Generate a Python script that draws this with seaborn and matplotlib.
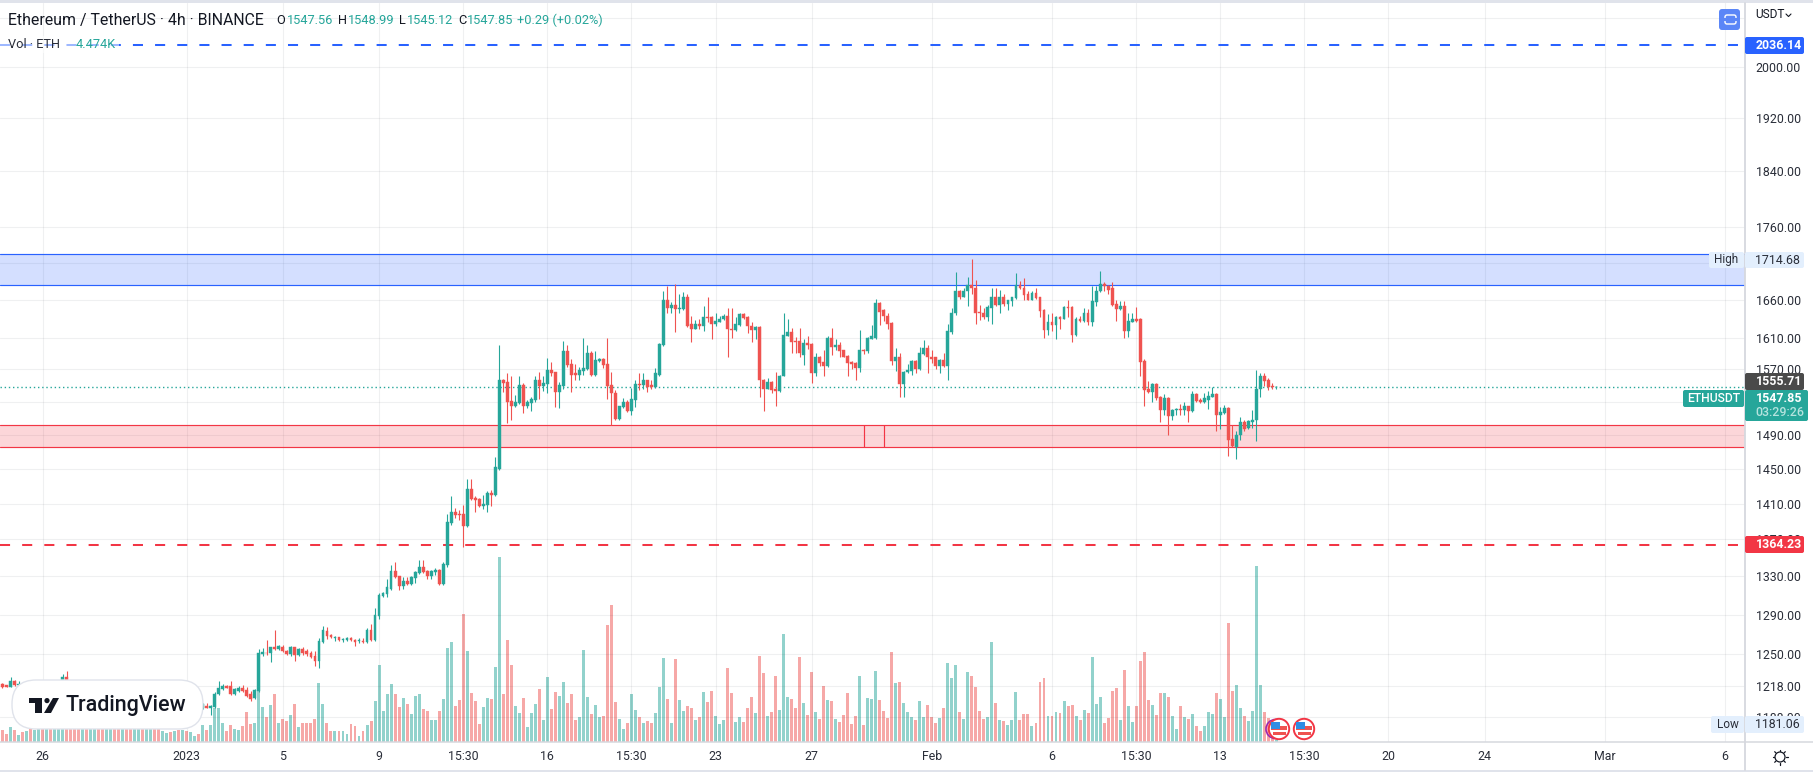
import matplotlib
matplotlib.use("Agg")
import matplotlib.pyplot as plt
from matplotlib.patches import Circle, FancyBboxPatch, Polygon, Rectangle
from matplotlib.ticker import NullLocator
import pandas as pd
import seaborn as sns

# open, high, low, close of each 4h candle
ohlc_dec_a = [
    (1220,1221,1216,1217.5),(1219,1219,1217,1217),(1217,1227,1217,1223),(1223,1224,1218,1219),
    (1219,1223,1217,1220),(1220,1221,1217,1218),(1218,1221,1216,1219),(1219,1220,1215,1216),
    (1216,1220,1214,1218),(1218,1224,1216,1222),(1222,1223,1214,1215),(1215,1218,1212,1216),
    (1216,1219,1213,1214),(1214,1219,1213,1218),(1218,1221,1216,1220),(1223,1230,1219,1227),
    (1227,1233.5,1222,1223),(1223,1224,1217,1219),(1219,1221,1210,1212),(1212,1214,1205,1207),
    (1207,1211,1204,1209),(1209,1212,1200,1202),(1202,1206,1198,1204),(1204,1208,1201,1206),
    (1206,1209,1200,1201),
]
ohlc_dec_b = [
    (1201,1204,1192,1194),(1194,1199,1191,1197),(1197,1201,1194,1199),(1199,1202,1193,1195),
    (1195,1198,1190,1193),(1193,1198,1191,1196),(1196,1199,1192,1194),(1194,1197,1190,1192),
    (1192,1196,1189,1195),(1195,1201,1194,1199),(1199,1203,1196,1197),(1197,1200,1193,1198),
    (1198,1202,1196,1200),(1200,1203,1196,1197),(1197,1199,1192,1194),(1194,1198,1191,1196),
    (1196,1200,1194,1199),(1199,1202,1196,1197),(1197,1200,1193,1198),(1198,1201,1195,1196),
    (1196,1199,1193,1198),(1198,1200,1194,1195),(1195,1197,1191,1196),(1196,1199,1193,1198),
    (1198,1201,1196,1197),
]
ohlc_jan_a = [
    (1197,1202,1196,1201),(1199,1202,1197,1197.5),(1197.5,1200,1190,1199),(1198,1212,1197,1211),
    (1210.7,1223,1210,1216),(1215,1220,1214,1218),(1218,1219,1216,1216.5),(1218,1223,1210,1211),
    (1211,1216,1210,1215),(1213,1218,1212,1216),(1216,1219,1212,1213),(1214,1217.5,1208,1209),
    (1211,1213,1204,1206),(1206.5,1215,1206,1214),(1213,1255,1212,1251),(1250,1255.5,1247.5,1252),
    (1251,1264.5,1249,1250.5),(1251,1257,1242,1256.5),(1256.5,1274,1254,1254.5),(1255,1259,1254,1257.5),
    (1257,1259,1252,1252.5),(1253,1254,1249,1249.5),(1250,1257.5,1248,1256.5),(1256.5,1257,1243,1249),
    (1249,1255.5,1248,1255),(1254.5,1256.5,1249,1251),(1252.5,1254.5,1248,1249.5),(1251,1253,1245.5,1247),
    (1248,1253,1237.5,1243),(1243,1266,1236,1263.5),(1262.5,1278,1261,1274),(1273.5,1277.5,1265,1268.5),
    (1269.5,1270.5,1266,1267),(1266.5,1268,1263.5,1267.5),(1267,1267.5,1263.5,1264),(1264,1266.5,1262.5,1265.5),
    (1264.5,1267,1263.5,1266),(1266.5,1267,1263,1264),(1264.5,1265.5,1258,1262.5),(1263,1266,1261,1264.5),
    (1263.5,1266,1261,1262),
]
ohlc_jan_b = [
    (1262,1276,1261,1274),(1274,1280,1263,1264),(1264,1297,1263,1290),(1289,1312,1285,1310),
    (1309,1314,1308,1312),(1311,1327,1308,1319),(1317,1342,1316,1336),(1336,1345,1328,1329),
    (1330,1331,1316,1320),(1320,1329,1317,1325),(1325,1329,1321,1322),(1322,1330,1321,1329),
    (1328,1336,1323,1335),(1334,1348,1333,1340),(1340,1348,1334,1335),(1336,1337,1327,1330),
    (1330,1337,1327,1336),(1335,1339,1332,1337),(1337,1338,1321,1322),(1322,1345,1321,1343),
    (1342,1398,1340,1389),(1388,1418,1386,1401),(1401,1405,1394,1397),(1398,1403,1392,1397),
    (1398,1408,1362,1385),(1385,1438,1384,1426),(1426,1438,1414,1415),(1416,1418,1401,1414),
    (1415,1416,1406,1407),(1407,1420,1404,1409),(1408,1424,1401,1422),(1422,1425,1407,1420),
    (1420,1464,1418,1451.5),(1450,1601,1448,1557),
]
ohlc_jan_c = [
    (1557,1558,1542,1553),(1554,1565,1504,1529),(1531,1561,1507,1524),(1524,1538,1523,1529),
    (1528,1561,1527,1550),(1550,1553,1516,1524),(1524,1532,1522,1529),(1528,1535,1518,1533),
    (1532,1561,1529,1557),(1557,1567,1533,1549),(1549,1562,1543,1553),(1552,1584,1541,1569),
    (1569,1579,1562,1565),(1567,1567,1523,1542),(1542,1554,1522,1550),(1549,1606,1546,1593),
    (1593,1601,1573,1576),(1577,1583,1542,1563),(1565,1577,1557,1563),(1563,1573,1557,1569),
    (1568,1610,1563,1572),(1570,1601,1569,1590),(1590,1593,1562,1563),(1563,1593,1562,1582),
    (1581,1584,1579,1583),(1583,1584,1571,1576),(1577,1610,1533,1549),(1550,1567,1502,1540),
    (1541,1544,1508,1509),(1509,1525,1508,1524),(1523,1534,1522,1529),(1529,1532,1517,1518),
    (1518,1547,1513,1533),(1532,1556,1523,1552),(1552,1565,1544,1550),(1550,1565,1545,1556),
    (1556,1557,1542,1548),(1550,1557,1546,1548),(1548,1571,1547,1565),(1563,1604,1562,1602),
    (1601,1671,1600,1659),
]
ohlc_jan_d = [
    (1659,1678,1643,1649),(1649,1657,1642,1653),(1653,1681,1617,1647),(1647,1668,1642,1649),
    (1647,1670,1646,1664),(1664,1668,1624,1626),(1628,1638,1605,1622),(1622,1633,1621,1628),
    (1628,1634,1622,1625),(1625,1652,1619,1637),(1637,1664,1631,1636),(1637,1638,1608,1628),
    (1628,1643,1626,1632),(1631,1639,1630,1634),(1634,1641,1633,1638),(1638,1649,1586,1621),
    (1622,1649,1610,1620),(1620,1637,1619,1628),(1627,1642,1625,1641),(1641,1642,1634,1636),
    (1637,1638,1616,1625),(1626,1630,1605,1620),(1620,1625,1608,1624),(1624,1625,1536,1556),
    (1557,1558,1518,1546),(1546,1559,1545,1554),(1554,1555,1541,1544),(1546,1567,1525,1543),
    (1543,1563,1542,1562),(1562,1642,1561,1614),(1613,1634,1612,1617),(1617,1623,1590,1605),
    (1606,1611,1590,1605),(1606,1623,1585,1590),(1588,1608,1576,1604),(1604,1612,1596,1601),
    (1602,1603,1553,1565),(1565,1591,1562,1586),(1586,1587,1574,1578),(1579,1595,1562,1574),
]
ohlc_feb_a = [
    (1574,1613,1573,1610),(1610,1623,1588,1598),(1598,1608,1595,1601),(1601,1605,1586,1593),
    (1594,1595,1585,1586),(1587,1588,1562,1578),(1579,1580,1570,1577),(1578,1579,1557,1572),
    (1572,1620,1566,1595),(1595,1596,1589,1593),(1593,1611,1590,1610),(1609,1627,1608,1612),
    (1610,1661,1608,1655),(1655,1657,1627,1644),(1646,1647,1632,1638),(1639,1642,1622,1628),
    (1629,1630,1576,1580),(1580,1597,1568,1585),(1585,1591,1535,1552),(1552,1568,1536,1567),
    (1566,1577,1565,1569),(1568,1582,1563,1581),(1581,1582,1565,1570),(1570,1598,1569,1590),
    (1589,1607,1588,1597),(1597,1601,1565,1585),(1586,1594,1578,1583),(1585,1586,1570,1574),
    (1574,1583,1565,1582),(1582,1591,1573,1574),(1574,1628,1556,1619),(1618,1649,1615,1643),
    (1642,1697,1640,1672),(1672,1673,1661,1664),(1664,1676,1663,1672),(1671,1691,1651,1679),
    (1679,1715,1667,1675),(1676,1687,1628,1643),(1644,1653,1633,1642),(1643,1649,1635,1637),
]
ohlc_feb_b = [
    (1637,1653,1632,1650),(1649,1676,1628,1664),(1664,1676,1651,1653),(1653,1673,1643,1664),
    (1664,1667,1652,1654),(1654,1660,1646,1659),(1658,1664,1652,1663),(1662,1696,1661,1680),
    (1680,1685,1674,1675),(1676,1689,1659,1666),(1667,1672,1659,1660),(1660,1672,1659,1669),
    (1669,1675,1661,1662),(1663,1664,1637,1645),(1646,1647,1610,1620),(1620,1641,1614,1631),
    (1631,1642,1619,1627),(1627,1638,1609,1637),(1637,1639,1622,1635),(1635,1651,1634,1650),
    (1650,1659,1637,1649),(1650,1651,1605,1614),(1614,1637,1613,1635),(1635,1639,1631,1632),
    (1632,1649,1631,1642),(1642,1647,1627,1631),(1631,1678,1626,1658),(1657,1678,1652,1672),
    (1671,1699,1670,1681),(1681,1684,1672,1678),(1678,1679,1668,1673),(1675,1683,1652,1653),
    (1654,1659,1632,1647),(1647,1658,1646,1651),(1651,1658,1610,1619),(1619,1642,1611,1632),
    (1631,1642,1630,1635),(1635,1650,1631,1632),(1634,1636,1561,1579),(1581,1583,1524,1544),
]
ohlc_feb_c = [
    (1546,1555,1541,1542),(1542,1553,1529,1551),(1551,1553,1532,1534),(1536,1537,1505,1520),
    (1520,1539,1514,1534),(1534,1535,1490,1512),(1512,1521,1507,1520),(1520,1522,1514,1521),
    (1521,1527,1513,1520),(1520,1530,1513,1524),(1524,1525,1505,1518),(1518,1543,1517,1539),
    (1539,1540,1530,1531),(1532,1534,1528,1529),(1529,1540,1528,1534),(1532,1543,1521,1537),
    (1536,1548,1535,1539),(1539,1540,1494,1513),(1513,1523,1497,1517),(1516,1526,1515,1522),
    (1522,1523,1465,1484),(1485,1501,1475,1476),(1475,1494,1461,1490),(1489,1511,1483,1505),
    (1505,1508,1494,1497),(1498,1507,1497,1506),(1505,1520,1498,1508),(1507,1569,1482,1546),
    (1545,1565,1535,1561),(1561,1565,1549,1555),(1556,1559,1544,1548),(1549,1553,1545.5,1547.5),
    (1547.56,1548.99,1545.12,1547.85),
]

# traded volume per candle, thousands of ETH
volume_a = [12,8,15,12,7,10,11,13,12,13,14,14,15,13,14,16,18,14,15,14,13,14,14,13,14,
            15,13,14,13,14,14,13,13,14,13,14,13,13,14,13,11,9,10,11,12,12,11,10,6,8]
volume_b = [17,12,17,34,34,19,11,17,13,12,16,30,18,19,53,35,25,37,48,19,23,21,27,38,15,
            19,19,19,23,59,38,19,11,11,11,11,8,18,16,6,11,17,21,41,77,31,48,58,48,35]
volume_c = [44,38,28,46,48,33,31,22,22,31,43,94,100,36,42,128,91,49,41,18,35,44,43,75,185,
            48,102,77,36,29,44,15,29,38,53,22,65,33,50,46,60,39,48,22,25,92,45,28,37,25]
volume_d = [26,117,137,40,23,13,19,48,32,25,19,21,19,29,55,84,43,19,83,42,31,36,34,22,25,
            50,40,51,26,18,22,74,49,20,25,20,34,45,29,86,69,26,30,66,32,108,45,43,34,85]
volume_e = [39,27,70,30,23,56,42,41,23,20,27,49,18,26,66,17,44,43,71,42,31,24,90,59,60,
            39,30,25,22,41,25,37,25,19,24,34,79,64,77,30,23,70,66,55,31,23,25,100,39,22]
volume_f = [21,17,22,50,22,28,28,16,19,60,64,26,26,30,29,41,36,37,26,22,32,29,85,38,45,
            19,24,51,54,22,72,36,20,36,81,90,42,37,27,49,49,45,26,13,36,25,23,28,16,11,
            16,30,28,49,43,25,119,51,57,34,26,21,31,176,57,30,24,15,2]

# 1710 and 1530 have grid lines, their labels are covered by tags in the picture
price_ticks = [2080,2000,1920,1840,1760,1710,1660,1610,1570,1530,1490,1450,1410,1370,1330,1290,1250,1218,1188]
price_labels = ["","2000.00","1920.00","1840.00","1760.00","","1660.00","1610.00","1570.00","",
                "1490.00","1450.00","1410.00","1370.00","1330.00","1290.00","1250.00","1218.00","1188.00"]
date_ticks = [10,46,70,94,115,136,157,178,202,232,262,283,304,325,346,370,400,430]
date_labels = ["26","2023","5","9","15:30","16","15:30","23","27","Feb","6","15:30","13","15:30","20","24","Mar","6"]

blue_zone = (1680, 1722)
red_zone = (1475.5, 1502)
blue_level = 2036.14
red_level = 1364.23
last_price = 1547.85
red_marks = [215, 220]

GREEN = "#26a69a"
RED = "#ef5350"
BLUE_LINE = "#2962ff"
RED_LINE = "#f23645"
INK = "#131722"

rows = ohlc_dec_a + ohlc_dec_b + ohlc_jan_a + ohlc_jan_b + ohlc_jan_c + ohlc_jan_d + ohlc_feb_a + ohlc_feb_b + ohlc_feb_c
df = pd.DataFrame(rows, columns=["open", "high", "low", "close"])
df["volume"] = volume_a + volume_b + volume_c + volume_d + volume_e + volume_f
df["idx"] = df.index
df["direction"] = ["up" if c >= o else "down" for o, c in zip(df["open"], df["close"])]

sns.set_theme(style="white")
plt.rcParams["font.family"] = ["Roboto", "DejaVu Sans"]

W, H = 1813, 772
fig = plt.figure(figsize=(W / 100, H / 100), dpi=100, facecolor="white")
ax = fig.add_axes([0, (H - 742) / H, 1745 / W, 739 / H])
ax_vol = ax.twinx()

# volume goes under the candles
ax_vol.set_zorder(1)
ax.set_zorder(2)
ax.patch.set_visible(False)
sns.barplot(data=df, x="idx", y="volume", hue="direction", palette={"up": GREEN, "down": RED},
            native_scale=True, dodge=False, width=0.74, alpha=0.5, saturation=1, linewidth=0,
            legend=False, ax=ax_vol)
for bar in ax_vol.patches:
    bar.set_snap(True)
ax_vol.set_ylim(0, 739)
ax_vol.set_yticks([])
ax_vol.set_ylabel("")
ax_vol.grid(False)

ax.set_yscale("log")
for name, color in [("up", GREEN), ("down", RED)]:
    part = df[df["direction"] == name]
    ax.vlines(part["idx"], part["low"], part["high"], color=color, lw=0.8, zorder=3)
    bottoms = part[["open", "close"]].min(axis=1)
    tops = part[["open", "close"]].max(axis=1)
    bodies = ax.bar(part["idx"], tops - bottoms, bottom=bottoms, width=0.72, color=color,
                    edgecolor=color, linewidth=0.3, zorder=4)
    for body in bodies:
        body.set_snap(True)

ax.axhspan(*blue_zone, color=BLUE_LINE, alpha=0.2, lw=0, zorder=1)
ax.axhspan(*red_zone, color=RED_LINE, alpha=0.2, lw=0, zorder=1)
for level in blue_zone:
    ax.axhline(level, color=BLUE_LINE, lw=0.85, zorder=2)
for level in red_zone:
    ax.axhline(level, color=RED_LINE, lw=0.85, zorder=2)
ax.vlines(red_marks, red_zone[0], red_zone[1], color=RED_LINE, lw=0.85, zorder=2)

ax.axhline(blue_level, color=BLUE_LINE, lw=1.45, linestyle=(0, (5, 6)), dash_capstyle="butt", zorder=2)
ax.axhline(red_level, color=RED_LINE, lw=1.45, linestyle=(0, (5, 6)), dash_capstyle="butt", zorder=2)
ax.axhline(last_price, color=GREEN, lw=1.0, linestyle=(0, (1, 2)), zorder=2)

ax.set_xlim(-0.624, 435.0)
ax.set_ylim(1164.9, 2105.1)
ax.yaxis.set_minor_locator(NullLocator())
ax.set_yticks(price_ticks, price_labels)
ax.set_xticks(date_ticks, date_labels)
ax.yaxis.tick_right()
ax.tick_params(axis="y", length=0, pad=7.6, labelsize=8.9, labelcolor="#2a2e39")
ax.tick_params(axis="x", length=0, pad=5.5, labelsize=8.9, labelcolor="#2a2e39")
ax.grid(True, color="#2a2e39", alpha=0.07, lw=0.8)
ax.set_xlabel("")
ax.set_ylabel("")
for a in (ax, ax_vol):
    for spine in a.spines.values():
        spine.set_visible(False)

# interface furniture, drawn in picture pixels on a transparent top layer
ui = fig.add_axes([0, 0, 1, 1], zorder=5)
ui.set_xlim(0, W)
ui.set_ylim(H, 0)
ui.axis("off")


def label(x, y, text, color=INK, size=8.9, ha="left", weight="normal"):
    ui.text(x, y, text, color=color, fontsize=size, ha=ha, va="center", fontweight=weight)


def tag(x0, x1, y0, y1, color):
    ui.add_patch(FancyBboxPatch((x0 + 1, y0 + 1), x1 - x0 - 2, y1 - y0 - 2, boxstyle="round,pad=1,rounding_size=2",
                                fc=color, ec="none", zorder=3))


ui.add_patch(Rectangle((0, 0), W, 3, fc="#e0e3eb", ec="none"))
ui.add_patch(Rectangle((0, 770), W, 2, fc="#e0e3eb", ec="none"))
ui.plot([1745, 1745], [3, 770], color="#d6d8de", lw=1.3)
ui.plot([0, W], [742, 742], color="#d6d8de", lw=1.1)

label(8, 20, "Ethereum / TetherUS · 4h · BINANCE", size=11.4)
for x, name, x_val, val in [(276, "O", 287, "1547.56"), (338, "H", 348, "1548.99"),
                            (399, "L", 407, "1545.12"), (458, "C", 467, "1547.85")]:
    label(x, 20, name, size=9.2)
    label(x_val, 20, val, color=GREEN, size=9.2)
label(517, 20, "+0.29 (+0.02%)", color=GREEN, size=9.2)

# the legend row veils the dashed line behind it
ui.add_patch(Rectangle((0, 36), 119, 17, fc="white", ec="none", alpha=0.55, zorder=1))
label(8, 44, "Vol · ETH", size=9.2, color="#2a2e39")
label(76, 44, "4.474K", color=GREEN, size=9.2)

label(1755, 15, "USDT", size=8.6)
ui.plot([1786, 1788.5, 1791], [14, 16.5, 14], color=INK, lw=0.8)

ui.add_patch(FancyBboxPatch((1721, 11), 17, 17, boxstyle="round,pad=2,rounding_size=3", fc="#5b86f7", ec="none"))
ui.add_patch(FancyBboxPatch((1725, 15), 11, 9, boxstyle="round,pad=0,rounding_size=2", fc="none", ec="white", lw=1))
ui.add_patch(Rectangle((1723, 18), 16, 3, fc="#5b86f7", ec="none", zorder=3))

tag(1745, 1804, 37, 54, "#2962ff")
label(1755.5, 45.5, "2036.14", color="white", weight="bold")
tag(1709, 1744, 252, 268, "#e3effd")
label(1726.5, 260, "High", color="#2a2e39", size=8.5, ha="center")
tag(1745, 1804, 252, 268, "#e3effd")
label(1755.5, 260, "1714.68", color="#2a2e39")
tag(1745, 1804, 373, 390, "#4a4a4a")
label(1755.5, 381.5, "1555.71", color="white", weight="bold")
tag(1683, 1744, 390, 407, GREEN)
label(1713.5, 398.5, "ETHUSDT", color="white", size=8.7, ha="center", weight="medium")
tag(1745, 1808, 390, 421, GREEN)
label(1755.5, 398.5, "1547.85", color="white", weight="bold")
label(1755.5, 412.5, "03:29:26", color="#b5e3de", weight="medium")
tag(1745, 1804, 536, 553, "#f23645")
label(1755.5, 544.5, "1364.23", color="white", weight="bold")
tag(1711, 1744, 716, 733, "#e3effd")
label(1727.5, 724.5, "Low", color="#2a2e39", size=8.5, ha="center")
tag(1745, 1804, 716, 733, "#e3effd")
label(1755.5, 724.5, "1181.06", color="#2a2e39")

# settings sun in the corner
ui.add_patch(Circle((1780, 757), 5, fc="none", ec=INK, lw=0.9))
for dx, dy in [(0, -7.5), (0, 7.5), (-7.5, 0), (7.5, 0), (-5.3, -5.3), (5.3, -5.3), (-5.3, 5.3), (5.3, 5.3)]:
    ui.plot([1780 + dx * 0.8, 1780 + dx], [757 + dy * 0.8, 757 + dy], color=INK, lw=0.9)

# TradingView badge
ui.add_patch(FancyBboxPatch((26, 694), 163, 21, boxstyle="round,pad=14,rounding_size=24", fc="white",
                            ec="#e0e3eb", lw=1.0, mutation_aspect=1))
ui.add_patch(Polygon([(29, 698), (42, 698), (42, 713), (35, 713), (35, 703), (29, 703)], fc=INK, ec="none"))
ui.add_patch(Circle((47, 700.6), 2.6, fc=INK, ec="none"))
ui.add_patch(Polygon([(53, 698), (59, 698), (51, 713), (44, 713)], fc=INK, ec="none"))
label(65, 705.5, "TradingView", size=15.5, weight="medium")

# economic event flags after the last candle
ui.add_patch(Circle((1275.5, 729), 9.5, fc="none", ec="#9c27b0", lw=1.2))
for cx in (1279, 1304):
    ui.add_patch(Circle((cx, 729), 10.2, fc="white", ec="#f23645", lw=1.4, zorder=3))
    ui.add_patch(Rectangle((cx - 8, 725.5), 16, 4, fc="#ef5350", ec="none", zorder=3))
    ui.add_patch(Rectangle((cx - 6.5, 732), 13, 3, fc="#ef5350", ec="none", zorder=3))
    ui.add_patch(Rectangle((cx - 8, 722), 9, 7, fc="#2f8de4", ec="none", zorder=4))

fig.savefig("out.png", dpi=100)
